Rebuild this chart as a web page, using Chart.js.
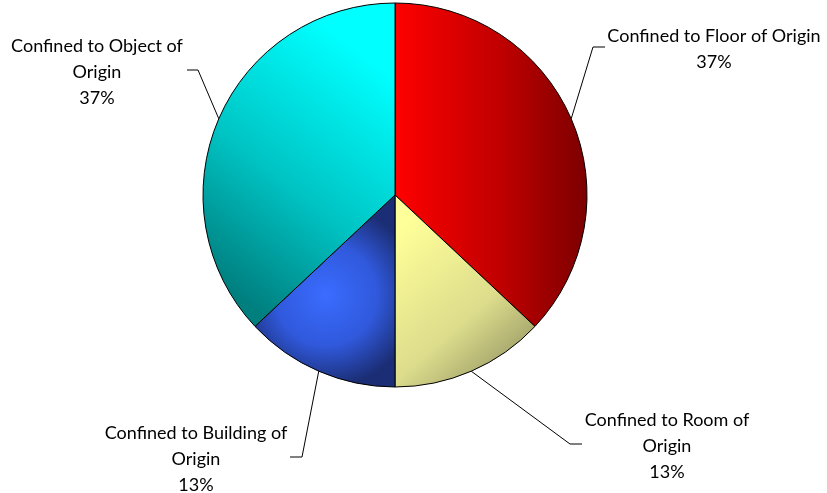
<!DOCTYPE html>
<html>
<head>
<meta charset="utf-8">
<script src="https://cdn.jsdelivr.net/npm/chart.js@4.4.1/dist/chart.umd.min.js"></script>
<style>
  html, body { margin: 0; padding: 0; background: #fff; }
  #wrap { width: 827px; height: 493px; }
</style>
</head>
<body>
<div id="wrap"><canvas id="pieChart" width="827" height="493"></canvas></div>
<script>
// Categories (multi-line labels, as they are wrapped in the picture)
const categories = [
    ['Confined to Floor of Origin'],
    ['Confined to Room of', 'Origin'],
    ['Confined to Building of', 'Origin'],
    ['Confined to Object of', 'Origin']
];
// Share of incidents (%)
const shares = [37, 13, 13, 37];

// Gradient stops per slice (light -> dark)
const sliceColors = [
    ['#ff0000', '#c00000', '#7c0000'],
    ['#ffff99', '#dcdc8c', '#85855a'],
    ['#3a6cff', '#3059dc', '#1b2d74'],
    ['#00ffff', '#00c4c4', '#007f7f']
];

// Where each label and its leader elbow sit (canvas px)
const labelLayout = [
    { x: 714, y: 36, elbow: [593, 47], end: [605, 47] },
    { x: 667, y: 420, elbow: [570, 444], end: [582, 444] },
    { x: 196, y: 433, elbow: [302, 457], end: [290, 457] },
    { x: 97, y: 46, elbow: [198, 70], end: [187, 70] }
];

const PIE_RADIUS = 192;
const FONT = '18px Lato, "Open Sans", sans-serif';
const LINE_H = 26;

function sliceFill(context) {
    const chart = context.chart;
    const area = chart.chartArea;
    if (!area) return sliceColors[context.dataIndex][0];
    const ctx = chart.ctx;
    const cx = (area.left + area.right) / 2;
    const cy = (area.top + area.bottom) / 2;
    const r = PIE_RADIUS;
    const c = sliceColors[context.dataIndex];
    let g;
    switch (context.dataIndex) {
        case 0: // red: left to right
            g = ctx.createLinearGradient(cx, cy, cx + r, cy);
            break;
        case 1: // yellow: top-left to bottom-right
            g = ctx.createLinearGradient(cx, cy + 0.2 * r, cx + 0.7 * r, cy + r);
            break;
        case 2: // blue: radial highlight
            g = ctx.createRadialGradient(cx - 0.36 * r, cy + 0.52 * r, 0, cx - 0.36 * r, cy + 0.52 * r, 0.48 * r);
            break;
        default: // cyan: top-right to bottom-left
            g = ctx.createLinearGradient(cx, cy - 0.6 * r, cx - 0.85 * r, cy + 0.5 * r);
    }
    g.addColorStop(0, c[0]);
    g.addColorStop(0.55, c[1]);
    g.addColorStop(1, c[2]);
    return g;
}

const leaderLabels = {
    id: 'leaderLabels',
    afterDatasetsDraw(chart) {
        const ctx = chart.ctx;
        const meta = chart.getDatasetMeta(0);
        const data = chart.data.datasets[0].data;
        const total = data.reduce((a, b) => a + b, 0);
        ctx.save();
        meta.data.forEach((arc, i) => {
            const lay = labelLayout[i];
            const p = arc.getProps(['x', 'y', 'startAngle', 'endAngle', 'outerRadius'], true);
            const mid = (p.startAngle + p.endAngle) / 2;
            const ax = p.x + Math.cos(mid) * p.outerRadius;
            const ay = p.y + Math.sin(mid) * p.outerRadius;

            ctx.strokeStyle = '#000';
            ctx.lineWidth = 1;
            ctx.beginPath();
            ctx.moveTo(ax, ay);
            ctx.lineTo(lay.elbow[0], lay.elbow[1]);
            ctx.lineTo(lay.end[0], lay.end[1]);
            ctx.stroke();

            const lines = chart.data.labels[i].concat([Math.round(data[i] / total * 100) + '%']);
            ctx.fillStyle = '#000';
            ctx.font = FONT;
            ctx.textAlign = 'center';
            ctx.textBaseline = 'middle';
            lines.forEach((t, k) => ctx.fillText(t, lay.x, lay.y + k * LINE_H));
        });
        ctx.restore();
    }
};

document.addEventListener('DOMContentLoaded', function () {
    const ctx = document.getElementById('pieChart').getContext('2d');
    new Chart(ctx, {
        type: 'pie',
        data: {
            labels: categories,
            datasets: [{
                data: shares,
                backgroundColor: sliceFill,
                borderColor: '#000',
                borderWidth: 1,
                hoverOffset: 0
            }]
        },
        options: {
            responsive: false,
            animation: false,
            radius: PIE_RADIUS,
            layout: { padding: { left: 0, right: 37, top: 0, bottom: 103 } },
            plugins: {
                legend: { display: false },
                tooltip: { enabled: false }
            },
            events: []
        },
        plugins: [leaderLabels]
    });
});
</script>
</body>
</html>
